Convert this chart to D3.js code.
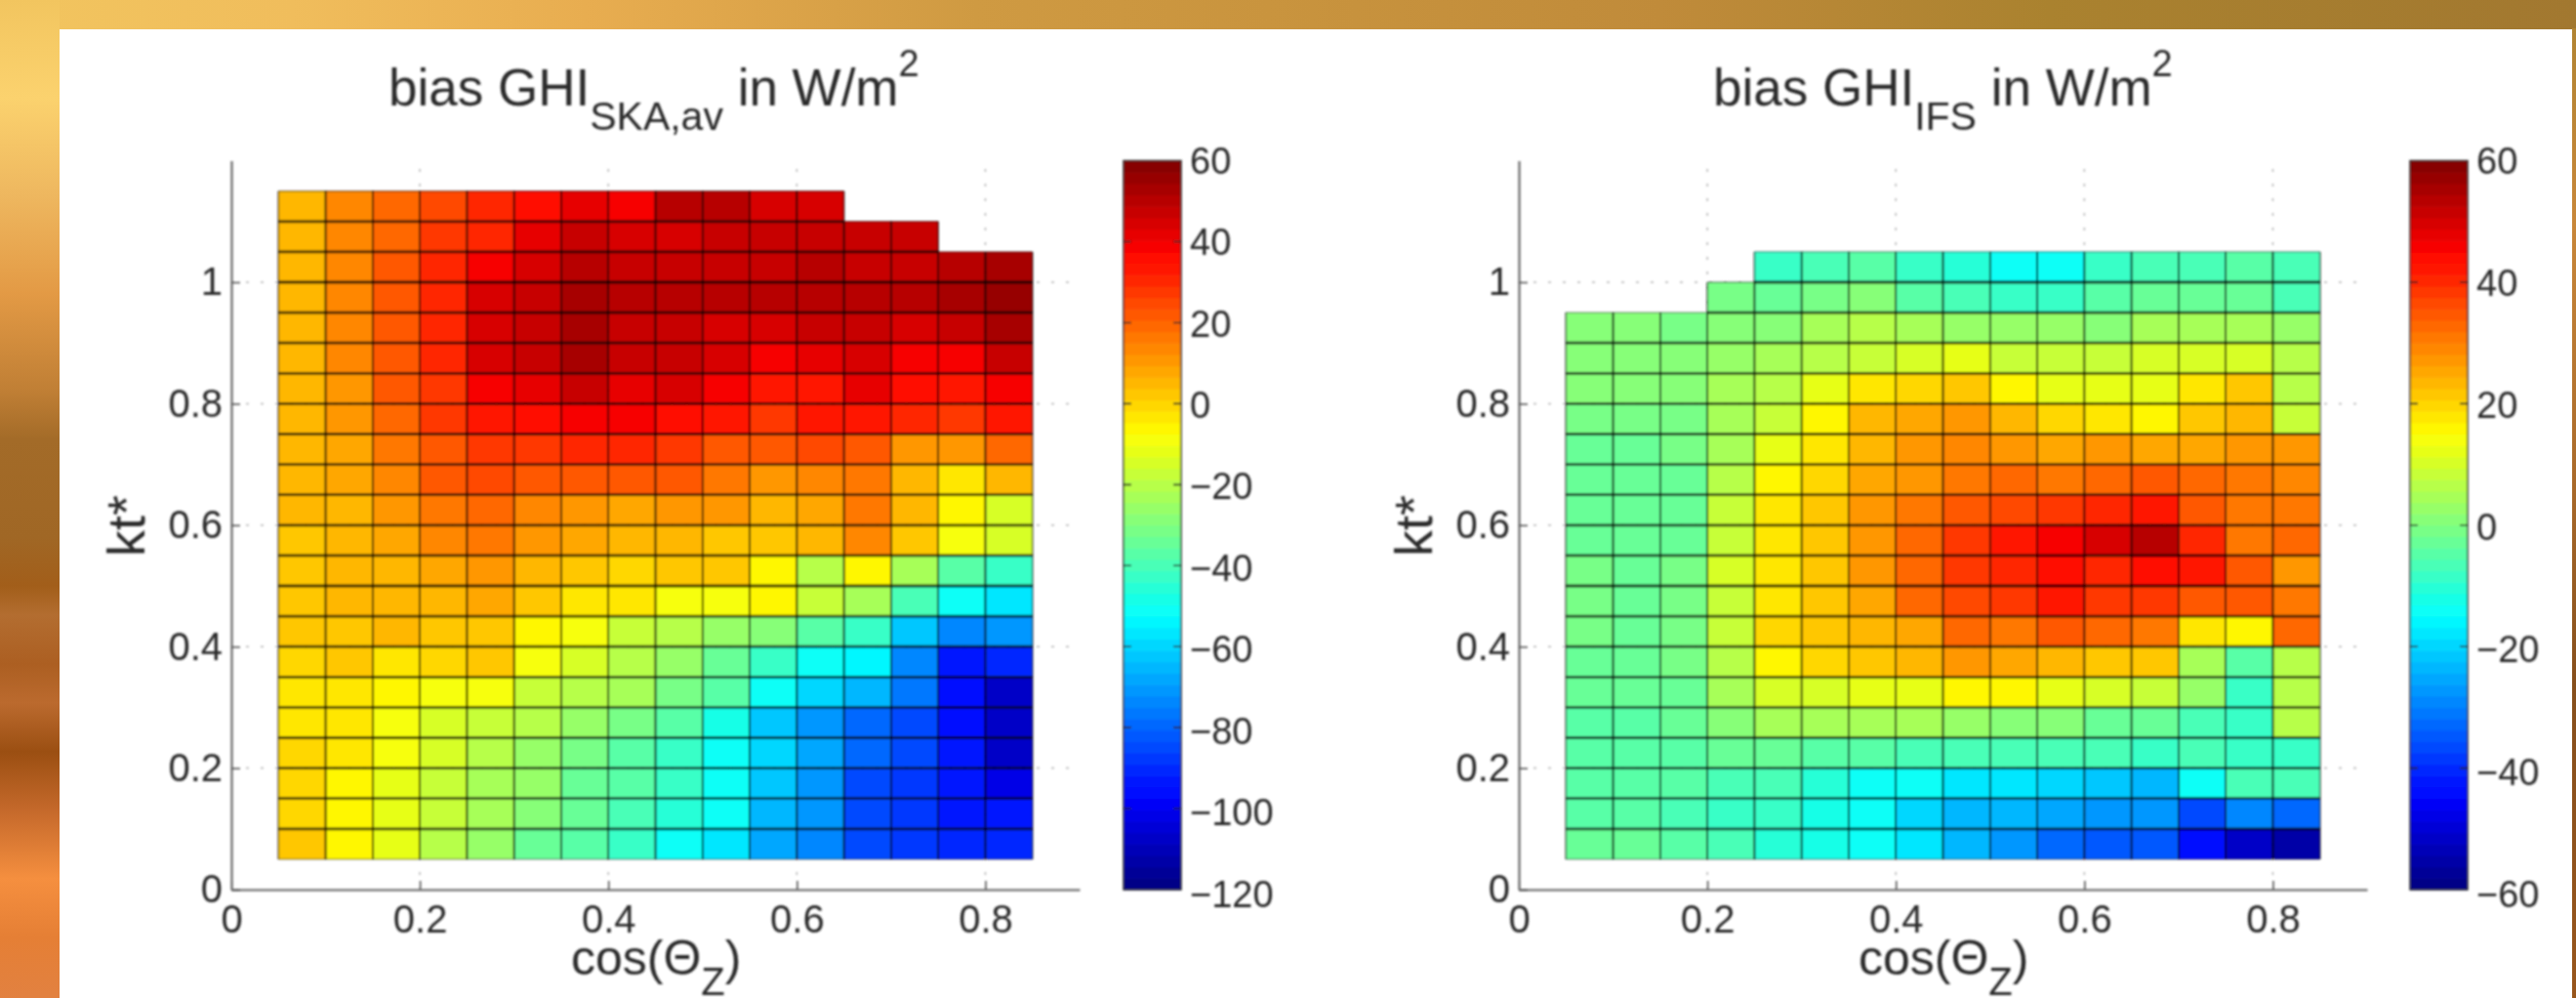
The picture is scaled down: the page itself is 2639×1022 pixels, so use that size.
<!DOCTYPE html>
<html><head><meta charset="utf-8">
<script src="https://cdn.jsdelivr.net/npm/d3@7"></script>
<style>html,body{margin:0;padding:0;background:#fff}svg{display:block}text{font-family:"Liberation Sans",Arial,sans-serif;fill:#2a2a2a}</style>
</head><body><svg id="c" width="2639" height="1022"></svg>
<script>
// Data: rows run from the top bin (kt* 1.10-1.15) down to the bottom bin (0.05-0.10)
const cosBinStart=[0.05,0.10,0.15,0.20,0.25,0.30,0.35,0.40,0.45,0.50,0.55,0.60,0.65,0.70,0.75,0.80];
const ktBinStart=[1.10,1.05,1.00,0.95,0.90,0.85,0.80,0.75,0.70,0.65,0.60,0.55,0.50,0.45,0.40,0.35,0.30,0.25,0.20,0.15,0.10,0.05];
const n=null;
const biasSKA=[
[6,13,20,26,31,37,42,39,51,51,45,45,n,n,n,n],
[6,13,20,27,31,41,46,44,44,47,46,46,46,46,n,n],
[6,13,21,31,38,44,49,48,48,48,48,49,48,48,51,53],
[6,13,21,31,44,46,52,51,51,51,51,51,50,50,53,56],
[6,14,22,31,44,46,52,48,46,44,45,48,47,45,46,52],
[6,13,22,31,44,46,53,48,47,44,38,42,45,40,38,46],
[6,11,21,29,38,41,46,42,44,39,34,34,42,37,34,38],
[6,10,20,28,34,37,39,38,37,34,28,32,34,30,28,34],
[5,8,17,23,27,27,31,30,27,23,21,24,22,12,11,20],
[4,7,13,21,24,21,22,22,22,17,11,14,17,6,-3,4],
[4,6,10,15,19,14,12,8,10,11,6,9,15,4,-7,-15],
[3,5,8,13,17,10,8,5,4,3,1,5,14,3,-9,-14],
[2,4,6,7,10,5,2,-1,1,1,-6,-19,-7,-22,-36,-42],
[2,5,6,5,7,1,-3,-3,-8,-8,-7,-16,-24,-39,-50,-57],
[1,2,4,2,3,-5,-8,-16,-19,-26,-28,-36,-42,-63,-75,-72],
[0,1,-2,0,1,-9,-15,-20,-26,-33,-42,-52,-54,-74,-92,-90],
[-2,-3,-6,-8,-8,-16,-19,-24,-31,-38,-52,-60,-66,-76,-95,-107],
[-2,-4,-8,-14,-17,-21,-26,-32,-38,-48,-62,-71,-78,-84,-96,-108],
[-1,-4,-9,-15,-19,-25,-31,-37,-44,-50,-60,-69,-78,-84,-94,-108],
[-1,-7,-12,-16,-22,-26,-33,-38,-44,-50,-62,-72,-84,-88,-93,-103],
[0,-7,-12,-17,-24,-30,-33,-40,-46,-52,-64,-72,-85,-88,-92,-93],
[1,-7,-12,-19,-26,-35,-37,-44,-50,-58,-68,-75,-86,-89,-90,-90]];
const biasIFS=[
[n,n,n,n,n,n,n,n,n,n,n,n,n,n,n,n],
[n,n,n,n,n,n,n,n,n,n,n,n,n,n,n,n],
[n,n,n,n,-8,-6,-4,-8,-11,-14,-15,-9,-7,-7,-4,-6],
[n,n,n,-1,-2,-1,0,-4,-7,-8,-9,-5,-3,-3,-3,-6],
[0,0,-1,1,1,4,6,4,2,3,2,1,4,5,5,3],
[1,1,1,3,4,7,9,11,12,9,8,8,10,10,10,6],
[0,0,0,4,7,12,18,19,22,15,12,12,12,17,21,7],
[-1,-1,-1,4,8,15,23,25,28,24,19,17,16,22,24,9],
[-2,-2,-1,5,12,18,24,27,29,28,25,27,25,25,27,28],
[-2,-3,-2,6,15,20,25,27,31,32,31,33,35,33,31,29],
[-2,-3,-2,8,18,22,27,31,35,37,38,41,42,34,30,31],
[-2,-3,-2,9,17,21,28,33,38,42,45,49,53,41,30,33],
[-1,-2,-1,10,17,21,28,33,39,41,44,41,44,42,35,28],
[-1,-2,-1,9,18,21,25,32,37,38,42,38,38,35,34,30],
[-1,-2,-1,8,19,22,23,26,33,31,34,32,30,18,15,32],
[-2,-3,-1,7,15,19,21,24,27,25,24,22,21,4,-5,7],
[-3,-3,-2,4,10,11,12,12,15,15,12,10,8,3,-9,7],
[-4,-4,-3,1,5,5,5,5,3,1,0,-2,-3,-6,-9,6],
[-4,-4,-4,-3,-2,-5,-4,-6,-6,-6,-7,-6,-8,-6,-8,-8],
[-5,-4,-4,-6,-7,-11,-15,-15,-17,-18,-19,-21,-23,-15,-7,-7],
[-5,-5,-6,-8,-9,-12,-15,-19,-23,-24,-26,-27,-27,-37,-29,-32],
[-3,-3,-4,-7,-10,-13,-15,-18,-24,-28,-33,-34,-35,-44,-52,-56]];
const xTicks=[0,0.2,0.4,0.6,0.8];
const yTicks=[0,0.2,0.4,0.6,0.8,1];
const skaBarTicks=[60,40,20,0,-20,-40,-60,-80,-100,-120];
const ifsBarTicks=[60,40,20,0,-20,-40,-60];
const topStops=[[0,"#f2c55f"],[300,"#f0bd5c"],[600,"#e8ad50"],[1000,"#cf9a42"],[1300,"#c9943e"],[1700,"#c08b3a"],[2100,"#aa822f"],[2639,"#a27830"]];
const leftStops=[[0,"#f2c55f"],[100,"#fbd26e"],[200,"#eeb75f"],[300,"#e39a45"],[400,"#c07f35"],[450,"#a36b28"],[550,"#a06725"],[600,"#a25e1a"],[630,"#b36d30"],[680,"#ac5f22"],[720,"#bb6a2e"],[770,"#9b4f12"],[830,"#c5692b"],[900,"#f58f3f"],[960,"#e57f35"],[1022,"#e28140"]];
const rightStops=[[0,"#ae8432"],[230,"#c8873a"],[500,"#a8692a"],[700,"#864f1c"],[1022,"#98561c"]];

const svg=d3.select("#c");
const defs=svg.append("defs");
defs.append("filter").attr("id","soft").attr("x","-2%").attr("y","-2%").attr("width","104%").attr("height","104%")
  .append("feGaussianBlur").attr("stdDeviation",1.2);
function grad(id,stops,horizontal,max){
  const g=defs.append("linearGradient").attr("id",id).attr("gradientUnits","userSpaceOnUse")
    .attr("x1",0).attr("y1",0).attr("x2",horizontal?max:0).attr("y2",horizontal?0:max);
  stops.forEach(s=>g.append("stop").attr("offset",s[0]/max).attr("stop-color",s[1]));
}
grad("gTop",topStops,true,2639);grad("gLeft",leftStops,false,1022);grad("gRight",rightStops,false,1022);
svg.append("rect").attr("x",0).attr("y",0).attr("width",2639).attr("height",30).attr("fill","url(#gTop)");
svg.append("rect").attr("x",0).attr("y",0).attr("width",61).attr("height",1022).attr("fill","url(#gLeft)");
svg.append("rect").attr("x",2635).attr("y",29).attr("width",4).attr("height",993).attr("fill","url(#gRight)");

function jet(t){
  const c=v=>Math.round(255*Math.max(0,Math.min(1,v)));
  t=(Math.min(63,Math.floor(t*64))+0.5)/64;
  return `rgb(${c(Math.min(4*t-1.5,-4*t+4.5))},${c(Math.min(4*t-0.5,-4*t+3.5))},${c(Math.min(4*t+0.5,-4*t+2.5))})`;
}
const root=svg.append("g").attr("filter","url(#soft)");

function panel(o){
  const x=d3.scaleLinear().domain([0,0.9]).range([o.x0,o.x0+869]);
  const y=d3.scaleLinear().domain([0,1.2]).range([911,164.6]);
  const col=d3.scaleLinear().domain(o.domain).range([0,1]);
  const g=root.append("g");
  const binW=0.05,binH=0.05;
  // dotted grid
  g.append("g").selectAll("line").data(xTicks.slice(1)).join("line")
    .attr("x1",d=>x(d)).attr("x2",d=>x(d)).attr("y1",y(0)).attr("y2",y(1.2));
  g.append("g").selectAll("line").data(yTicks.slice(1)).join("line")
    .attr("x1",x(0)).attr("x2",x(0.9)).attr("y1",d=>y(d)).attr("y2",d=>y(d));
  g.selectAll("g line").attr("stroke","#b5b5b5").attr("stroke-width",1.5).attr("stroke-dasharray","3 12");
  // cells
  const cells=[];
  o.rows.forEach((r,i)=>r.forEach((v,j)=>{if(v!==null)cells.push({v,c:cosBinStart[j],k:ktBinStart[i],i,j});}));
  g.append("g").selectAll("rect").data(cells).join("rect")
    .attr("x",d=>x(d.c)).attr("y",d=>y(d.k+binH)).attr("width",d=>x(d.c+binW)-x(d.c)).attr("height",d=>y(d.k)-y(d.k+binH))
    .attr("fill",d=>jet(col(d.v)));
  // cell edges: inner horizontals heavier than verticals, as in the picture
  const edges=g.append("g").attr("fill","none").attr("stroke","#000");
  edges.selectAll("path.v").data(cells).join("path").attr("class","v").attr("stroke-width",1.6).attr("stroke-opacity",.75)
    .attr("d",d=>`M${x(d.c)},${y(d.k)}V${y(d.k+binH)}M${x(d.c+binW)},${y(d.k)}V${y(d.k+binH)}`);
  edges.selectAll("path.h").data(cells.filter(d=>d.k>0.06)).join("path").attr("class","h").attr("stroke-width",2.8).attr("stroke-opacity",.8)
    .attr("d",d=>`M${x(d.c)},${y(d.k)}H${x(d.c+binW)}`);
  const isTop=d=>d.i===0||o.rows[d.i-1][d.j]===null;
  edges.selectAll("path.t").data(cells.filter(isTop)).join("path").attr("class","t").attr("stroke-width",1.4).attr("stroke-opacity",.5)
    .attr("d",d=>`M${x(d.c)},${y(d.k+binH)}H${x(d.c+binW)}`);
  edges.selectAll("path.b").data(cells.filter(d=>d.k<0.06)).join("path").attr("class","b").attr("stroke-width",1.4).attr("stroke-opacity",.5)
    .attr("d",d=>`M${x(d.c)},${y(d.k)}H${x(d.c+binW)}`);
  // axes
  const fmt=d=>String(d);
  const ax=g.append("g").attr("transform",`translate(0,${y(0)})`)
    .call(d3.axisBottom(x).tickValues(xTicks).tickFormat(fmt).tickSizeInner(-9).tickSizeOuter(0).tickPadding(16));
  const ay=g.append("g").attr("transform",`translate(${x(0)},0)`)
    .call(d3.axisLeft(y).tickValues(yTicks).tickFormat(fmt).tickSizeInner(-9).tickSizeOuter(0).tickPadding(9));
  [ax,ay].forEach(a=>{
    a.select(".domain").attr("stroke","#7f7f7f").attr("stroke-width",2.6);
    a.selectAll(".tick line").attr("stroke","#555").attr("stroke-width",1.6);
    a.selectAll("text").attr("font-size",40).style("font-family",'"Liberation Sans",Arial,sans-serif').attr("fill","#2a2a2a");
  });
  // title
  const t=g.append("text").attr("x",o.titleX).attr("y",108).attr("font-size",53).attr("xml:space","preserve");
  t.append("tspan").text("bias GHI");
  t.append("tspan").attr("font-size",41).attr("dy",25).text(o.sub);
  t.append("tspan").attr("dy",-25).text(" in W/m");
  t.append("tspan").attr("font-size",38).attr("dy",-30).text("2");
  // axis labels
  const xl=g.append("text").attr("x",o.x0+348).attr("y",998).attr("font-size",50);
  xl.append("tspan").text("cos(Θ");
  xl.append("tspan").attr("font-size",40).attr("dy",21).text("Z");
  xl.append("tspan").attr("dy",-21).text(")");
  g.append("text").attr("transform",`translate(${o.x0-89},570) rotate(-90)`).attr("font-size",54).text("kt*");
  // colorbar
  const by=d3.scaleLinear().domain(o.domain).range([911,164.6]);
  const labelY=d3.scaleLinear().domain(o.domain).range([915,164]);
  const levels=d3.range(64);
  const cb=g.append("g");
  cb.selectAll("rect").data(levels).join("rect")
    .attr("x",o.barX).attr("width",o.barW)
    .attr("y",l=>by(o.domain[0]+(l+1)/64*(o.domain[1]-o.domain[0])))
    .attr("height",(by.range()[0]-by.range()[1])/64+0.6)
    .attr("fill",l=>jet((l+0.5)/64));
  cb.append("rect").attr("x",o.barX).attr("y",164.6).attr("width",o.barW).attr("height",746.4)
    .attr("fill","none").attr("stroke","#333").attr("stroke-width",1.6);
  cb.selectAll("path.tk").data(o.barTicks.slice(1,-1)).join("path").attr("class","tk")
    .attr("stroke","#222").attr("stroke-width",1.6).attr("fill","none")
    .attr("d",v=>`M${o.barX},${by(v)}h8M${o.barX+o.barW-8},${by(v)}h8`);
  cb.selectAll("text").data(o.barTicks).join("text")
    .attr("x",o.barX+o.barW+9).attr("y",v=>labelY(v)).attr("dy","0.36em").attr("font-size",38)
    .text(v=>String(v).replace("-","−"));
}
panel({rows:biasSKA,domain:[-120,60],barTicks:skaBarTicks,x0:237,titleX:398,sub:"SKA,av",barX:1151,barW:59});
panel({rows:biasIFS,domain:[-60,60],barTicks:ifsBarTicks,x0:1556,titleX:1755,sub:"IFS",barX:2469,barW:59});
</script></body></html>
